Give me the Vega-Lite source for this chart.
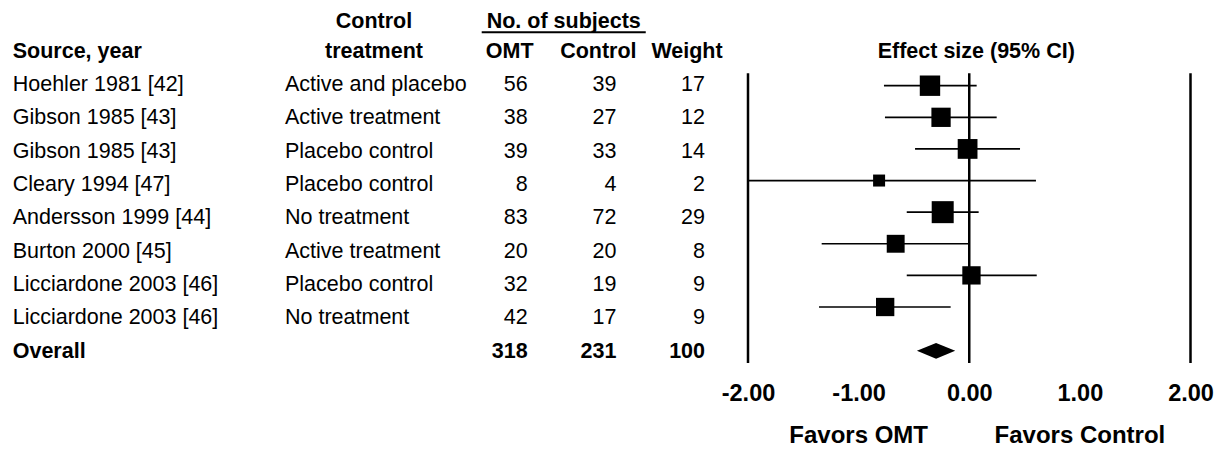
{
  "$schema": "https://vega.github.io/schema/vega-lite/v6.json",
  "width": 1217,
  "height": 449,
  "autosize": {"type": "none"},
  "padding": 0,
  "background": "white",
  "config": {
    "view": {"stroke": null},
    "mark": {"color": "black"},
    "text": {"font": "Liberation Sans", "fontSize": 21.5, "baseline": "middle", "color": "black"}
  },
  "datasets": {
    "studies": [
      {"row": 1, "source": "Hoehler 1981 [42]", "treatment": "Active and placebo", "omt": 56, "control": 39, "weight": 17, "es": -0.355, "lo": -0.771, "hi": 0.067},
      {"row": 2, "source": "Gibson 1985 [43]", "treatment": "Active treatment", "omt": 38, "control": 27, "weight": 12, "es": -0.255, "lo": -0.762, "hi": 0.248},
      {"row": 3, "source": "Gibson 1985 [43]", "treatment": "Placebo control", "omt": 39, "control": 33, "weight": 14, "es": -0.015, "lo": -0.49, "hi": 0.459},
      {"row": 4, "source": "Cleary 1994 [47]", "treatment": "Placebo control", "omt": 8, "control": 4, "weight": 2, "es": -0.815, "lo": -2.0, "hi": 0.603},
      {"row": 5, "source": "Andersson 1999 [44]", "treatment": "No treatment", "omt": 83, "control": 72, "weight": 29, "es": -0.24, "lo": -0.565, "hi": 0.085},
      {"row": 6, "source": "Burton 2000 [45]", "treatment": "Active treatment", "omt": 20, "control": 20, "weight": 8, "es": -0.665, "lo": -1.334, "hi": 0.0},
      {"row": 7, "source": "Licciardone 2003 [46]", "treatment": "Placebo control", "omt": 32, "control": 19, "weight": 9, "es": 0.02, "lo": -0.565, "hi": 0.61},
      {"row": 8, "source": "Licciardone 2003 [46]", "treatment": "No treatment", "omt": 42, "control": 17, "weight": 9, "es": -0.76, "lo": -1.358, "hi": -0.168},
      {"row": 9, "source": "Overall", "omt": 318, "control": 231, "weight": 100, "es": -0.30, "lo": -0.47, "hi": -0.13}
    ],
    "headers": [
      {"row": -1, "treatment": "Control", "control": "No. of subjects"},
      {"row": 0, "source": "Source, year", "treatment": "treatment", "omt": "OMT", "control": "Control", "weight": "Weight", "effect": "Effect size (95% CI)"}
    ]
  },
  "resolve": {
    "scale": {"x": "independent", "y": "independent", "size": "independent"},
    "axis": {"x": "independent", "y": "independent"}
  },
  "layer": [
    {
      "data": {"name": "studies"},
      "transform": [{"filter": "datum.row <= 8"}, {"fold": ["source", "treatment"], "as": ["key", "val"]}],
      "mark": {"type": "text", "align": "left"},
      "encoding": {
        "x": {"field": "key", "type": "nominal", "scale": {"type": "point", "domain": ["source", "treatment"], "range": [12.7, 285], "padding": 0}, "axis": null},
        "y": {"field": "row", "type": "quantitative", "scale": {"domain": [-1, 9], "range": [18.4, 351.7], "nice": false, "zero": false}, "axis": null},
        "text": {"field": "val", "type": "nominal"}
      }
    },
    {
      "data": {"name": "studies"},
      "transform": [{"filter": "datum.row <= 8"}, {"fold": ["omt", "control", "weight"], "as": ["key", "val"]}],
      "mark": {"type": "text", "align": "right"},
      "encoding": {
        "x": {"field": "key", "type": "nominal", "scale": {"type": "point", "domain": ["omt", "control", "weight"], "range": [527.7, 705], "padding": 0}, "axis": null},
        "y": {"field": "row", "type": "quantitative", "scale": {"domain": [-1, 9], "range": [18.4, 351.7], "nice": false, "zero": false}, "axis": null},
        "text": {"field": "val", "type": "nominal"}
      }
    },
    {
      "data": {"name": "studies"},
      "transform": [{"filter": "datum.row == 9"}, {"fold": ["source"], "as": ["key", "val"]}],
      "mark": {"type": "text", "align": "left", "fontWeight": "bold"},
      "encoding": {
        "x": {"field": "key", "type": "nominal", "scale": {"type": "point", "domain": ["source", "treatment"], "range": [12.7, 285], "padding": 0}, "axis": null},
        "y": {"field": "row", "type": "quantitative", "scale": {"domain": [-1, 9], "range": [18.4, 351.7], "nice": false, "zero": false}, "axis": null},
        "text": {"field": "val", "type": "nominal"}
      }
    },
    {
      "data": {"name": "studies"},
      "transform": [{"filter": "datum.row == 9"}, {"fold": ["omt", "control", "weight"], "as": ["key", "val"]}],
      "mark": {"type": "text", "align": "right", "fontWeight": "bold"},
      "encoding": {
        "x": {"field": "key", "type": "nominal", "scale": {"type": "point", "domain": ["omt", "control", "weight"], "range": [527.7, 705], "padding": 0}, "axis": null},
        "y": {"field": "row", "type": "quantitative", "scale": {"domain": [-1, 9], "range": [18.4, 351.7], "nice": false, "zero": false}, "axis": null},
        "text": {"field": "val", "type": "nominal"}
      }
    },
    {
      "data": {"name": "headers"},
      "transform": [{"filter": "datum.row == 0"}, {"fold": ["source"], "as": ["key", "val"]}],
      "mark": {"type": "text", "align": "left", "fontWeight": "bold"},
      "encoding": {
        "x": {"field": "key", "type": "nominal", "scale": {"type": "point", "domain": ["source", "treatment"], "range": [12.7, 285], "padding": 0}, "axis": null},
        "y": {"field": "row", "type": "quantitative", "scale": {"domain": [-1, 9], "range": [18.4, 351.7], "nice": false, "zero": false}, "axis": null},
        "text": {"field": "val", "type": "nominal"}
      }
    },
    {
      "data": {"name": "headers"},
      "transform": [{"filter": "datum.row == 0"}, {"fold": ["treatment"], "as": ["key", "val"]}],
      "mark": {"type": "text", "align": "center", "fontWeight": "bold", "dx": 89},
      "encoding": {
        "x": {"field": "key", "type": "nominal", "scale": {"type": "point", "domain": ["source", "treatment"], "range": [12.7, 285], "padding": 0}, "axis": null},
        "y": {"field": "row", "type": "quantitative", "scale": {"domain": [-1, 9], "range": [18.4, 351.7], "nice": false, "zero": false}, "axis": null},
        "text": {"field": "val", "type": "nominal"}
      }
    },
    {
      "data": {"name": "headers"},
      "transform": [{"filter": "datum.row == -1"}, {"fold": ["treatment"], "as": ["key", "val"]}],
      "mark": {"type": "text", "align": "center", "fontWeight": "bold", "dx": 89, "dy": 3.5},
      "encoding": {
        "x": {"field": "key", "type": "nominal", "scale": {"type": "point", "domain": ["source", "treatment"], "range": [12.7, 285], "padding": 0}, "axis": null},
        "y": {"field": "row", "type": "quantitative", "scale": {"domain": [-1, 9], "range": [18.4, 351.7], "nice": false, "zero": false}, "axis": null},
        "text": {"field": "val", "type": "nominal"}
      }
    },
    {
      "data": {"name": "headers"},
      "transform": [{"filter": "datum.row == 0"}, {"fold": ["omt", "control", "weight"], "as": ["key", "val"]}],
      "mark": {"type": "text", "align": "center", "fontWeight": "bold", "dx": -18},
      "encoding": {
        "x": {"field": "key", "type": "nominal", "scale": {"type": "point", "domain": ["omt", "control", "weight"], "range": [527.7, 705], "padding": 0}, "axis": null},
        "y": {"field": "row", "type": "quantitative", "scale": {"domain": [-1, 9], "range": [18.4, 351.7], "nice": false, "zero": false}, "axis": null},
        "text": {"field": "val", "type": "nominal"}
      }
    },
    {
      "data": {"name": "headers"},
      "transform": [{"filter": "datum.row == -1"}, {"fold": ["control"], "as": ["key", "val"]}],
      "mark": {"type": "text", "align": "center", "fontWeight": "bold", "dx": -52.6, "dy": 3.5},
      "encoding": {
        "x": {"field": "key", "type": "nominal", "scale": {"type": "point", "domain": ["omt", "control", "weight"], "range": [527.7, 705], "padding": 0}, "axis": null},
        "y": {"field": "row", "type": "quantitative", "scale": {"domain": [-1, 9], "range": [18.4, 351.7], "nice": false, "zero": false}, "axis": null},
        "text": {"field": "val", "type": "nominal"}
      }
    },
    {
      "data": {"name": "headers"},
      "transform": [{"filter": "datum.row == -1"}],
      "mark": {"type": "rule", "strokeWidth": 2, "xOffset": -46, "x2Offset": 29.4},
      "encoding": {
        "x": {"datum": "omt", "type": "nominal", "scale": {"type": "point", "domain": ["omt", "control", "weight"], "range": [527.7, 705], "padding": 0}, "axis": null},
        "x2": {"datum": "control"},
        "y": {"datum": -0.583, "type": "quantitative", "scale": {"domain": [-1, 9], "range": [18.4, 351.7], "nice": false, "zero": false}, "axis": null}
      }
    },
    {
      "data": {"name": "headers"},
      "transform": [{"filter": "datum.row == 0"}],
      "mark": {"type": "text", "align": "center", "fontWeight": "bold", "dx": 7},
      "encoding": {
        "x": {"datum": 0, "type": "quantitative", "scale": {"domain": [-2, 2], "range": [748, 1190.5], "nice": false, "zero": false}, "axis": null},
        "y": {"field": "row", "type": "quantitative", "scale": {"domain": [-1, 9], "range": [18.4, 351.7], "nice": false, "zero": false}, "axis": null},
        "text": {"field": "effect", "type": "nominal"}
      }
    },
    {
      "data": {"values": [{"v": -2}, {"v": 0}, {"v": 2}]},
      "mark": {"type": "rule", "strokeWidth": 2.5},
      "encoding": {
        "x": {"field": "v", "type": "quantitative", "scale": {"domain": [-2, 2], "range": [748, 1190.5], "nice": false, "zero": false},
          "axis": {"orient": "bottom", "offset": -56, "values": [-2, -1, 0, 1, 2], "format": ".2f", "labelExpr": "replace(datum.label, '\u2212', '-')", "labelFont": "Liberation Sans", "labelFontSize": 23.5, "labelFontWeight": "bold", "labelColor": "black", "labelBaseline": "middle", "labelPadding": 0, "domain": false, "ticks": false, "tickSize": 0, "grid": false, "title": null, "labelFlush": false, "labelOverlap": false, "labelBound": false}},
        "y": {"datum": 0.61, "type": "quantitative", "scale": {"domain": [1, 8], "range": [85.7, 307], "nice": false, "zero": false}, "axis": null},
        "y2": {"datum": 9.77}
      }
    },
    {
      "data": {"name": "studies"},
      "transform": [{"filter": "datum.row <= 8"}],
      "mark": {"type": "rule", "strokeWidth": 1.7},
      "encoding": {
        "x": {"field": "lo", "type": "quantitative", "scale": {"domain": [-2, 2], "range": [748, 1190.5], "nice": false, "zero": false}, "axis": null},
        "x2": {"field": "hi"},
        "y": {"field": "row", "type": "quantitative", "scale": {"domain": [1, 8], "range": [85.7, 307], "nice": false, "zero": false}, "axis": null}
      }
    },
    {
      "data": {"name": "studies"},
      "transform": [{"filter": "datum.row <= 8"}],
      "mark": {"type": "point", "shape": "square", "filled": true, "opacity": 1, "color": "black"},
      "encoding": {
        "x": {"field": "es", "type": "quantitative", "scale": {"domain": [-2, 2], "range": [748, 1190.5], "nice": false, "zero": false}, "axis": null},
        "y": {"field": "row", "type": "quantitative", "scale": {"domain": [1, 8], "range": [85.7, 307], "nice": false, "zero": false}, "axis": null},
        "size": {"field": "weight", "type": "quantitative", "scale": {"type": "log", "domain": [2, 29], "range": [144, 484]}, "legend": null}
      }
    },
    {
      "data": {"name": "studies"},
      "transform": [{"filter": "datum.row == 9"}],
      "mark": {"type": "point", "shape": "M-1,0L0,-0.41L1,0L0,0.41Z", "filled": true, "opacity": 1, "color": "black", "size": 1467, "yOffset": 12.2},
      "encoding": {
        "x": {"field": "es", "type": "quantitative", "scale": {"domain": [-2, 2], "range": [748, 1190.5], "nice": false, "zero": false}, "axis": null},
        "y": {"field": "row", "type": "quantitative", "scale": {"domain": [1, 8], "range": [85.7, 307], "nice": false, "zero": false}, "axis": null}
      }
    },
    {
      "data": {"values": [{"label": "Favors OMT", "v": -1}, {"label": "Favors Control", "v": 1}]},
      "mark": {"type": "text", "align": "center", "fontWeight": "bold", "fontSize": 24},
      "encoding": {
        "x": {"field": "v", "type": "quantitative", "scale": {"domain": [-2, 2], "range": [748, 1190.5], "nice": false, "zero": false}, "axis": null},
        "y": {"datum": 12.08, "type": "quantitative", "scale": {"domain": [1, 8], "range": [85.7, 307], "nice": false, "zero": false}, "axis": null},
        "text": {"field": "label", "type": "nominal"}
      }
    }
  ]
}
